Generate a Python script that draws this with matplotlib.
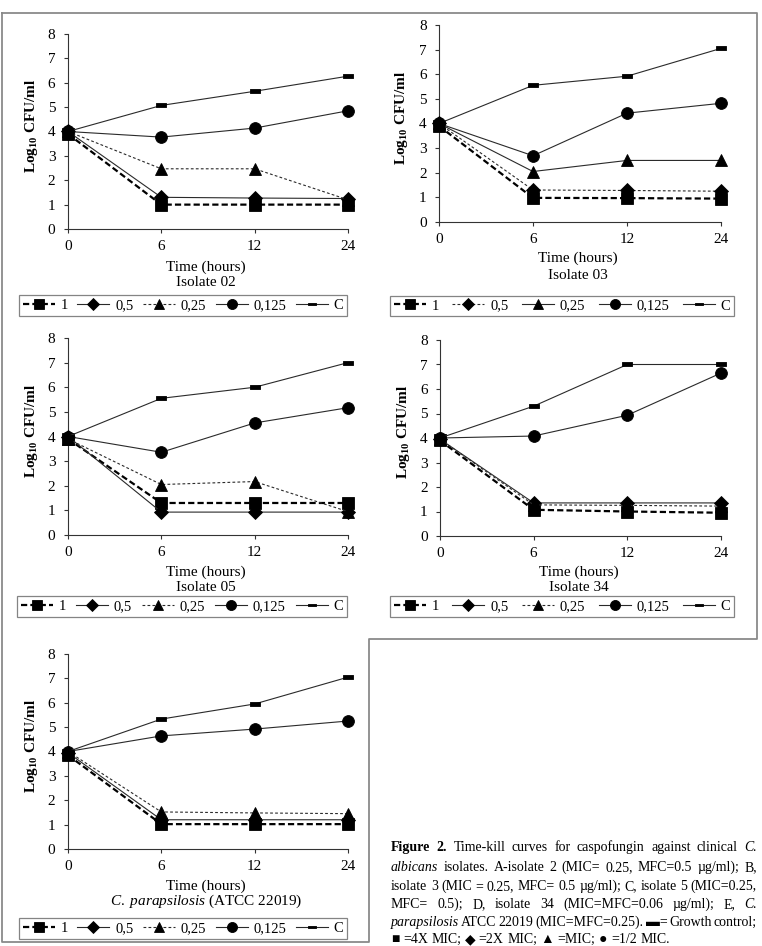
import matplotlib
matplotlib.use('Agg')
import matplotlib.pyplot as plt
from matplotlib.lines import Line2D
from matplotlib.path import Path

plt.rcParams['font.family'] = ['Liberation Serif', 'DejaVu Sans']
plt.rcParams['mathtext.fontset'] = 'custom'
plt.rcParams['mathtext.rm'] = 'Liberation Serif'
plt.rcParams['mathtext.bf'] = 'Liberation Serif:bold'
plt.rcParams['mathtext.it'] = 'Liberation Serif:italic'

# ---------------- data ----------------
times = ['0', '6', '12', '24']
series_labels = ['1', '0,5', '0,25', '0,125', 'C']

iso02_1 = [3.9, 1.0, 1.0, 1.0]
iso02_05 = [4.0, 1.3, 1.27, 1.25]
iso02_025 = [4.0, 2.47, 2.47, 1.2]
iso02_0125 = [4.0, 3.77, 4.14, 4.85]
iso02_C = [4.0, 5.07, 5.65, 6.27]

iso03_1 = [3.9, 0.98, 0.97, 0.95]
iso03_05 = [4.0, 1.3, 1.28, 1.25]
iso03_025 = [4.0, 2.05, 2.5, 2.5]
iso03_0125 = [4.0, 2.69, 4.42, 4.82]
iso03_C = [4.0, 5.55, 5.92, 7.05]

iso05_1 = [3.9, 1.3, 1.3, 1.3]
iso05_05 = [4.0, 0.93, 0.93, 0.93]
iso05_025 = [3.9, 2.05, 2.17, 0.95]
iso05_0125 = [4.0, 3.36, 4.55, 5.17]
iso05_C = [4.0, 5.55, 6.0, 7.0]

iso34_1 = [3.9, 1.07, 1.0, 0.95]
iso34_05 = [3.95, 1.35, 1.35, 1.35]
iso34_025 = [3.95, 1.27, 1.25, 1.22]
iso34_0125 = [4.0, 4.08, 4.93, 6.65]
iso34_C = [4.0, 5.3, 7.0, 7.0]

para_1 = [3.85, 1.02, 1.02, 1.02]
para_05 = [3.95, 1.2, 1.2, 1.2]
para_025 = [4.0, 1.52, 1.48, 1.45]
para_0125 = [4.0, 4.64, 4.92, 5.25]
para_C = [4.0, 5.33, 5.95, 7.05]

panel_titles = ['Isolate 02', 'Isolate 03', 'Isolate 05', 'Isolate 34',
                r'$\mathit{C.\ parapsilosis}$ (ATCC 22019)']
panel_data = [
    [iso02_1, iso02_05, iso02_025, iso02_0125, iso02_C],
    [iso03_1, iso03_05, iso03_025, iso03_0125, iso03_C],
    [iso05_1, iso05_05, iso05_025, iso05_0125, iso05_C],
    [iso34_1, iso34_05, iso34_025, iso34_0125, iso34_C],
    [para_1, para_05, para_025, para_0125, para_C],
]

# ---------------- layout / styles ----------------
W, H = 762, 946
fig = plt.figure(figsize=(W / 100, H / 100), dpi=100)

# axes rectangles in pixels: x0, x1, ytop, ybottom
axes_px = [(68, 348, 34, 229), (439, 721, 25, 222), (68, 348, 338, 535),
           (440, 721, 340, 536), (68, 348, 654, 849)]
# label rows: y of "Time (hours)", y of title
label_px = [(267, 282), (258, 275), (572, 587), (572, 587), (886, 901)]
# legend boxes: x0, x1, ytop, ybottom
legend_px = [(19, 347, 294, 317), (390, 734, 294, 318), (17, 347, 595, 618),
             (390, 734, 595, 618), (19, 347, 917, 940)]

DASH = (0, (2.8, 1.4))
DOT = (0, (2.5, 2.0))
SOLID = '-'
panel_styles = [
    [DASH, SOLID, DOT, SOLID, SOLID],
    [DASH, DOT, SOLID, SOLID, SOLID],
    [DASH, SOLID, DOT, SOLID, SOLID],
    [DASH, SOLID, DOT, SOLID, SOLID],
    [DASH, SOLID, DOT, SOLID, SOLID],
]

c_marker = Path([(-1, -0.37), (1, -0.37), (1, 0.37), (-1, 0.37), (-1, -0.37)],
                [Path.MOVETO, Path.LINETO, Path.LINETO, Path.LINETO, Path.CLOSEPOLY])
markers = ['s', 'D', '^', 'o', c_marker]
msizes = [8.3, 6.8, 8.5, 8.5, 6.5]
LC = '#2a2a2a'

TICK_FS = 11
LAB_FS = 11
LEG_FS = 10.5

for k in range(5):
    x0, x1, yt, yb = axes_px[k]
    ax = fig.add_axes([x0 / W, 1 - yb / H, (x1 - x0) / W, (yb - yt) / H])
    ax.set_facecolor('none')
    xs = list(range(len(times)))
    handles = []
    for s in range(5):
        ls = panel_styles[k][s]
        lw = 1.6 if s == 0 else 0.8
        col = 'black' if s == 0 else LC
        ax.plot(xs, panel_data[k][s], linestyle=ls, color=col, lw=lw,
                marker=markers[s], markersize=msizes[s],
                markerfacecolor='black', markeredgecolor='black',
                markeredgewidth=0.6, clip_on=False, zorder=3 + s)
        handles.append(Line2D([], [], linestyle=ls, color=col, lw=lw,
                              marker=markers[s], markersize=msizes[s] * 0.85,
                              markerfacecolor='black', markeredgecolor='black',
                              markeredgewidth=0.6))
    ax.set_xlim(0, 3)
    ax.set_ylim(0, 8)
    ax.set_xticks(xs)
    ax.set_xticklabels(times)
    ax.set_yticks(range(0, 9))
    for sp in ['top', 'right']:
        ax.spines[sp].set_visible(False)
    for sp in ['left', 'bottom']:
        ax.spines[sp].set_color('#333333')
        ax.spines[sp].set_linewidth(0.8)
    ax.tick_params(axis='both', direction='out', length=3, width=0.8,
                   color='#333333', labelsize=TICK_FS)
    ax.tick_params(axis='x', pad=5)
    ax.tick_params(axis='y', pad=6)
    # y label
    yc = (yt + yb) / 2 - 6
    fig.text((x0 - 37) / W, 1 - yc / H, r'Log$_{\mathbf{10}}$ CFU/ml',
             rotation=90, ha='center', va='center', fontsize=LAB_FS,
             fontweight='bold')
    xc = (x0 + x1) / 2 - 2
    ly1, ly2 = label_px[k]
    fig.text(xc / W, 1 - ly1 / H, 'Time (hours)', ha='center', va='center',
             fontsize=LAB_FS)
    fig.text(xc / W, 1 - ly2 / H, panel_titles[k], ha='center', va='center',
             fontsize=LAB_FS)
    # legend
    lx0, lx1, lyt, lyb = legend_px[k]
    leg = fig.legend(handles, series_labels, loc='center',
                     bbox_to_anchor=(lx0 / W, 1 - lyb / H, (lx1 - lx0) / W, (lyb - lyt) / H),
                     mode='expand', ncol=5, fontsize=LEG_FS, frameon=True,
                     fancybox=False, edgecolor='#666666', borderaxespad=0,
                     borderpad=0.25, handlelength=2.2, handletextpad=0.4,
                     columnspacing=0.4, numpoints=1)
    leg.get_frame().set_linewidth(0.9)

# outer L-shaped frame
fx = [2, 757, 757, 369, 369, 2, 2]
fy = [13, 13, 639, 639, 942, 942, 13]
fig.add_artist(Line2D([x / W for x in fx], [1 - y / H for y in fy],
                      color='#8a8a8a', lw=1.3, transform=fig.transFigure))

# ---------------- caption (justified) ----------------
CAP_FS = 10.0
renderer = fig.canvas.get_renderer()
cap_lines = [
    [('Figure', 'b'), ('2.', 'b'), ('Time-kill', 'r'), ('curves', 'r'), ('for', 'r'),
     ('caspofungin', 'r'), ('against', 'r'), ('clinical', 'r'), ('C.', 'i')],
    [('albicans', 'i'), ('isolates.', 'r'), ('A-isolate', 'r'), ('2', 'r'), ('(MIC=', 'r'),
     ('0.25,', 'r'), ('MFC=0.5', 'r'), ('µg/ml);', 'r'), ('B,', 'r')],
    [(w, 'r') for w in 'isolate 3 (MIC = 0.25, MFC= 0.5 µg/ml); C, isolate 5 (MIC=0.25,'.split()],
    [(w, 'r') for w in 'MFC= 0.5); D, isolate 34 (MIC=MFC=0.06 µg/ml); E,'.split()] + [('C.', 'i')],
    [('parapsilosis', 'i')] + [(w, 'r') for w in 'ATCC 22019 (MIC=MFC=0.25). ▬= Growth control;'.split()],
    [(w, 'r') for w in '■ =4X MIC; ◆ =2X MIC; ▲ =MIC; ● =1/2 MIC.'.split()],
]
cap_base = [851, 871, 890, 908, 926, 943]
CX0, CX1 = 391, 757
space_w = CAP_FS * 100 / 72 * 0.25

for i, words in enumerate(cap_lines):
    objs, widths = [], []
    for w, st in words:
        kw = dict(fontsize=CAP_FS, ha='left', va='baseline')
        if st == 'b':
            kw['fontweight'] = 'bold'
        if st == 'i':
            kw['fontstyle'] = 'italic'
        t = fig.text(0, 0, w, **kw)
        bb = t.get_window_extent(renderer)
        objs.append(t)
        widths.append(bb.width)
    justify = i < len(cap_lines) - 1
    if justify and len(words) > 1:
        gap = (CX1 - CX0 - sum(widths)) / (len(words) - 1)
        gap = max(gap, 1.0)
    else:
        gap = space_w
    x = CX0
    for t, wd in zip(objs, widths):
        t.set_position((x / W, 1 - cap_base[i] / H))
        x += wd + gap

fig.savefig('out.png', dpi=100)
